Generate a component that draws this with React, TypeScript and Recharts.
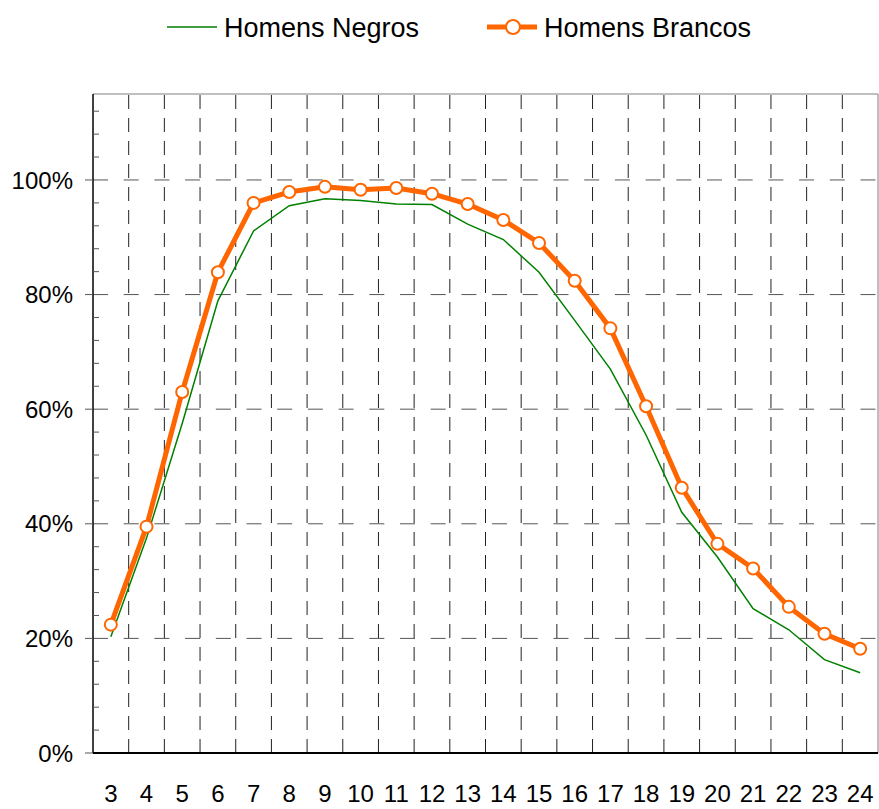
import { LineChart, Line, XAxis, YAxis, ReferenceLine, Legend } from 'recharts';

const ages = [3, 4, 5, 6, 7, 8, 9, 10, 11, 12, 13, 14, 15, 16, 17, 18, 19, 20, 21, 22, 23, 24];
const homensNegros = [20.3, 37.5, 57.5, 78.9, 91.1, 95.5, 96.7, 96.4, 95.8, 95.7, 92.3, 89.6, 83.9, 75.5, 67.0, 55.5, 42.0, 34.2, 25.2, 21.5, 16.3, 14.0];
const homensBrancos = [22.4, 39.5, 63.0, 83.9, 96.0, 97.9, 98.8, 98.3, 98.6, 97.6, 95.8, 93.0, 89.0, 82.4, 74.1, 60.5, 46.3, 36.5, 32.2, 25.5, 20.8, 18.2];

const yTicks = [0, 4, 8, 12, 16, 20, 24, 28, 32, 36, 40, 44, 48, 52, 56, 60, 64, 68, 72, 76, 80, 84, 88, 92, 96, 100, 104, 108, 112];
const gridY = [20, 40, 60, 80, 100];
const gridX = [3.5, 4.5, 5.5, 6.5, 7.5, 8.5, 9.5, 10.5, 11.5, 12.5, 13.5, 14.5, 15.5, 16.5, 17.5, 18.5, 19.5, 20.5, 21.5, 22.5, 23.5];
const legendOrder = ['negros', 'brancos'];

const data = ages.map((age, i) => ({ age, negros: homensNegros[i], brancos: homensBrancos[i] }));

const FONT = '"Liberation Sans", Arial, sans-serif';

function YTick(props: any) {
  const { x, y, payload } = props;
  const v = payload.value;
  if (v % 20 === 0) {
    return (
      <g>
        <line x1={x - 8} x2={x} y1={y} y2={y} stroke="#555" />
        <text x={x - 20} y={y} dy="0.36em" textAnchor="end" fontSize={24} fontFamily={FONT} fill="#000">
          {v}%
        </text>
      </g>
    );
  }
  return <line x1={x} x2={x + 6} y1={y} y2={y} stroke="#555" />;
}

function renderLegend(props: any) {
  const items = [...(props.payload || [])].sort(
    (a: any, b: any) => legendOrder.indexOf(a.dataKey) - legendOrder.indexOf(b.dataKey)
  );
  const starts = [167, 487];
  return (
    <svg width={879} height={52}>
      {items.map((it: any, i: number) => {
        const x0 = starts[i];
        const isOrange = it.dataKey === 'brancos';
        return (
          <g key={it.value}>
            <line x1={x0} x2={x0 + 50} y1={27} y2={27} stroke={it.color} strokeWidth={isOrange ? 5 : 1.5} />
            {isOrange && <circle cx={x0 + 26} cy={27} r={7} fill="#fff" stroke={it.color} strokeWidth={2} />}
            <text x={x0 + 57} y={27} dy="0.36em" fontSize={27} fontFamily={FONT} fill="#000">
              {it.value}
            </text>
          </g>
        );
      })}
    </svg>
  );
}

export default function App() {
  return (
    <div style={{ position: 'absolute', left: 0, top: 0 }}>
      <LineChart width={879} height={809} data={data} margin={{ top: 42, right: 1, bottom: 0, left: 0 }}>
        <Legend
          verticalAlign="top"
          content={renderLegend}
          wrapperStyle={{ top: 0, left: 0, width: 879, height: 52 }}
        />
        <XAxis
          dataKey="age"
          type="number"
          domain={[2.5, 24.5]}
          ticks={ages}
          height={56}
          tickLine={false}
          tickSize={0}
          tickMargin={32}
          axisLine={{ stroke: '#000', strokeWidth: 2 }}
          tick={{ fontSize: 24, fill: '#000', fontFamily: FONT }}
          interval={0}
        />
        <YAxis
          type="number"
          domain={[0, 115]}
          ticks={yTicks}
          width={93}
          tickLine={false}
          tickSize={0}
          tickMargin={0}
          axisLine={{ stroke: '#000', strokeWidth: 1.5 }}
          tick={<YTick />}
          interval={0}
        />
        {gridX.map((gx) => (
          <ReferenceLine key={'x' + gx} x={gx} stroke="#222" strokeDasharray="14 9" />
        ))}
        {gridY.map((gy) => (
          <ReferenceLine key={'y' + gy} y={gy} stroke="#555" strokeDasharray="15 15.7" />
        ))}
        <ReferenceLine y={115} stroke="#808080" />
        <ReferenceLine x={24.5} stroke="#808080" />
        <Line
          dataKey="negros"
          name="Homens Negros"
          stroke="#008000"
          strokeWidth={1.5}
          dot={false}
          activeDot={false}
          isAnimationActive={false}
        />
        <Line
          dataKey="brancos"
          name="Homens Brancos"
          stroke="#FF6600"
          strokeWidth={5}
          dot={{ r: 6, fill: '#fff', stroke: '#FF6600', strokeWidth: 2 }}
          activeDot={false}
          isAnimationActive={false}
        />
      </LineChart>
    </div>
  );
}
